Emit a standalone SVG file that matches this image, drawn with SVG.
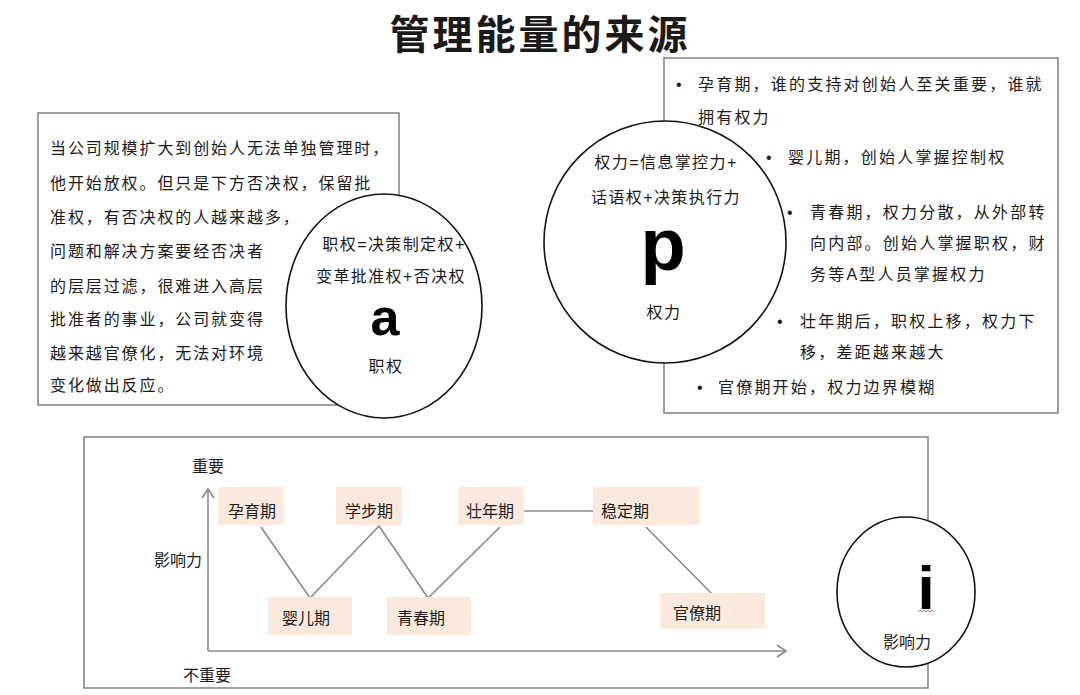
<svg xmlns="http://www.w3.org/2000/svg" width="1080" height="695" viewBox="0 0 1080 695">
<style>
text{font-family:"Liberation Sans","Noto Sans CJK SC",sans-serif;fill:#1a1a1a}
.t{font-size:16px;letter-spacing:1.9px}
.tr{font-size:16px;letter-spacing:2.2px}
.c{font-size:16px;text-anchor:middle;letter-spacing:1.4px}
.big{font-family:"Liberation Sans","DejaVu Sans",sans-serif;font-weight:bold;text-anchor:middle;fill:#000}
.box{fill:#fff;stroke:#808080;stroke-width:1.5}
.circ{fill:#fff;stroke:#111;stroke-width:1.6}
.stage{fill:#fbe9dd}
.st{font-size:16px;text-anchor:middle}
.ln{stroke:#8a8a8a;stroke-width:1.6;fill:none}
</style>
<defs>
<marker id="arr" markerWidth="14" markerHeight="14" refX="10" refY="7" orient="auto" markerUnits="userSpaceOnUse">
<path d="M1,1 L10,7 L1,13" fill="none" stroke="#8a8a8a" stroke-width="1.6"/>
</marker>
</defs>
<rect width="1080" height="695" fill="#fff"/>
<text x="540" y="49" text-anchor="middle" style="font-size:40px;font-weight:600;letter-spacing:3px">管理能量的来源</text>

<g id="authority-box">
<rect class="box" x="38" y="113" width="361" height="292"/>
<text class="t" x="50" y="154">当公司规模扩大到创始人无法单独管理时，</text>
<text class="t" x="50" y="189">他开始放权。但只是下方否决权，保留批</text>
<text class="t" x="50" y="223">准权，有否决权的人越来越多，</text>
<text class="t" x="50" y="257">问题和解决方案要经否决者</text>
<text class="t" x="50" y="292">的层层过滤，很难进入高层</text>
<text class="t" x="50" y="325">批准者的事业，公司就变得</text>
<text class="t" x="50" y="359">越来越官僚化，无法对环境</text>
<text class="t" x="50" y="391">变化做出反应。</text>
</g>
<g id="authority-circle">
<ellipse class="circ" cx="384" cy="306" rx="98" ry="112"/>
<text class="c" x="394" y="250">职权=决策制定权+</text>
<text class="c" x="391" y="282">变革批准权+否决权</text>
<text class="big" x="385" y="335" style="font-size:52px">a</text>
<text class="c" x="386" y="372">职权</text>
</g>

<g id="power-box">
<rect class="box" x="664" y="58" width="394" height="355"/>
</g>
<g id="power-circle">
<circle class="circ" cx="665" cy="242" r="121"/>
<text class="c" x="666" y="168">权力=信息掌控力+</text>
<text class="c" x="666" y="203">话语权+决策执行力</text>
<text class="big" x="663" y="270" style="font-size:74px">p</text>
<text class="c" x="664" y="318">权力</text>
</g>
<g id="power-text">
<text class="tr" x="676" y="90">•</text>
<text class="tr" x="698" y="90">孕育期，谁的支持对创始人至关重要，谁就</text>
<text class="tr" x="698" y="123">拥有权力</text>
<text class="tr" x="766" y="163">•</text>
<text class="tr" x="788" y="163">婴儿期，创始人掌握控制权</text>
<text class="tr" x="787" y="218">•</text>
<text class="tr" x="810" y="218">青春期，权力分散，从外部转</text>
<text class="tr" x="810" y="249">向内部。创始人掌握职权，财</text>
<text class="tr" x="810" y="280">务等A型人员掌握权力</text>
<text class="tr" x="777" y="327">•</text>
<text class="tr" x="800" y="327">壮年期后，职权上移，权力下</text>
<text class="tr" x="800" y="358">移，差距越来越大</text>
<text class="tr" x="697" y="393">•</text>
<text class="tr" x="718" y="393">官僚期开始，权力边界模糊</text>
</g>

<g id="influence-box">
<rect class="box" x="84" y="437" width="844" height="251"/>
<text class="st" x="208" y="472">重要</text>
<text class="st" x="178" y="566">影响力</text>
<text class="st" x="207" y="681">不重要</text>
</g>

<g id="connectors">
<line class="ln" x1="208" y1="651" x2="208" y2="489" marker-end="url(#arr)"/>
<line class="ln" x1="208" y1="651" x2="786" y2="651" marker-end="url(#arr)"/>
<polyline class="ln" points="261,527 310,598 379,526 428,598 500,527"/>
<line class="ln" x1="524" y1="511" x2="593" y2="511"/>
<line class="ln" x1="646" y1="527" x2="712" y2="594"/>
</g>

<g id="stage-yunyu"><rect class="stage" x="218" y="487" width="66" height="38"/><text class="st" x="252" y="517">孕育期</text></g>
<g id="stage-xuebu"><rect class="stage" x="336" y="487" width="66" height="38"/><text class="st" x="369" y="517">学步期</text></g>
<g id="stage-zhuangnian"><rect class="stage" x="458" y="487" width="66" height="38"/><text class="st" x="490" y="517">壮年期</text></g>
<g id="stage-wending"><rect class="stage" x="593" y="487" width="107" height="38"/><text class="st" x="625" y="517">稳定期</text></g>
<g id="stage-yinger"><rect class="stage" x="268" y="597" width="84" height="38"/><text class="st" x="306" y="624">婴儿期</text></g>
<g id="stage-qingchun"><rect class="stage" x="387" y="597" width="84" height="38"/><text class="st" x="421" y="624">青春期</text></g>
<g id="stage-guanliao"><rect class="stage" x="660" y="593" width="105" height="36"/><text class="st" x="697" y="619">官僚期</text></g>

<g id="influence-circle">
<ellipse class="circ" cx="906" cy="592" rx="69" ry="75"/>
<text class="big" x="926" y="609" style="font-size:62px">i</text>
<path d="M918,612 l2,-2 l2,2 l2,-2 l2,2 l2,-2 l2,2 l2,-2 l2,2" fill="none" stroke="#d04040" stroke-width="0.8"/>
<text class="st" x="907" y="648">影响力</text>
</g>
</svg>
